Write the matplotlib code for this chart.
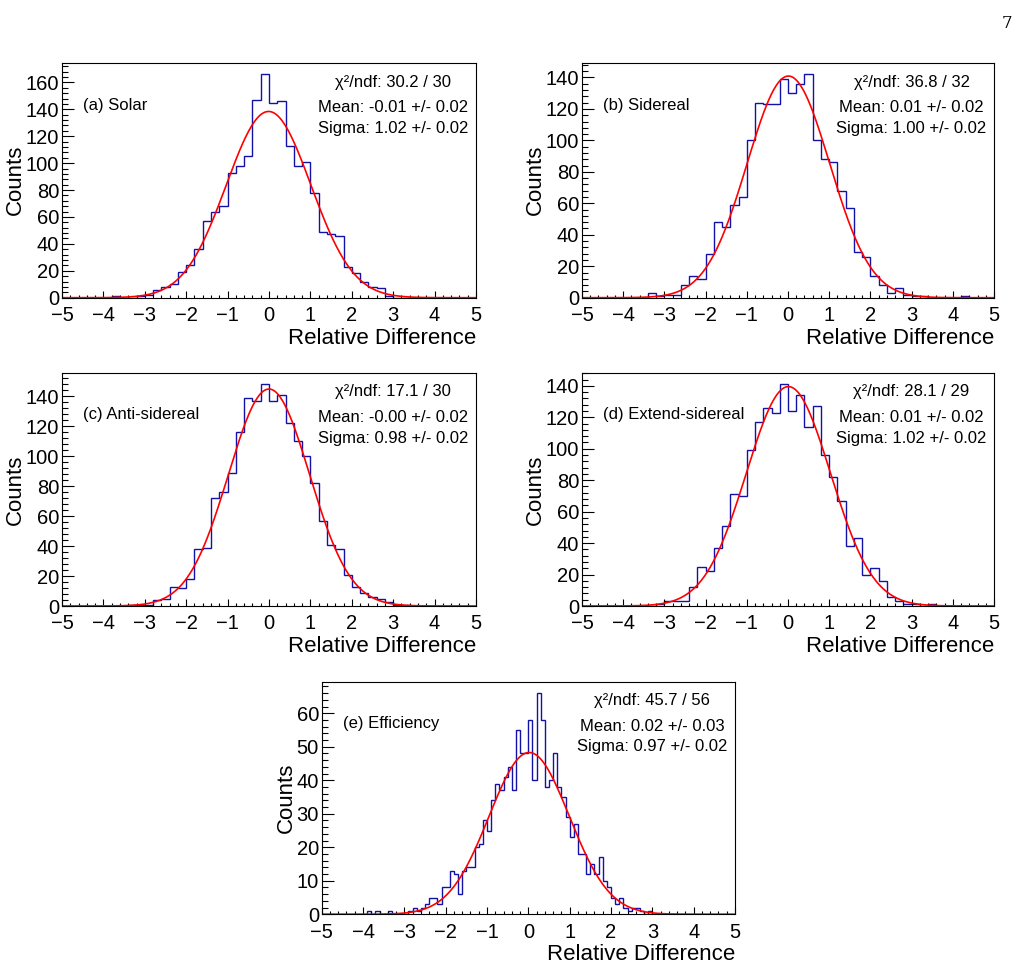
import numpy as np
import matplotlib
matplotlib.use("Agg")
import matplotlib.pyplot as plt
from matplotlib.ticker import MultipleLocator

plt.rcParams['font.family'] = ['Liberation Sans', 'DejaVu Sans']

# bin contents (bins of 0.2 from -5 to 5)
solar_counts = [0, 0, 0, 0, 0, 0, 1, 0, 0, 1,
                2, 6, 8, 10, 19, 24, 36, 57, 64, 68,
                93, 98, 105, 147, 166, 145, 146, 113, 98, 101,
                78, 49, 47, 46, 23, 18, 12, 8, 7, 1,
                0, 0, 0, 0, 0, 0, 0, 0, 0, 0]
sidereal_counts = [0, 0, 0, 0, 0, 0, 0, 0, 3, 1,
                   2, 2, 8, 14, 12, 28, 48, 45, 59, 64,
                   100, 124, 123, 123, 139, 130, 136, 142, 100, 88,
                   86, 68, 57, 29, 26, 14, 8, 3, 6, 2,
                   1, 1, 0, 0, 0, 0, 1, 0, 0, 0]
anti_counts = [0, 0, 0, 0, 0, 0, 0, 0, 1, 1,
               1, 4, 5, 13, 12, 18, 38, 39, 72, 76,
               89, 116, 139, 137, 148, 137, 141, 122, 110, 100,
               82, 57, 41, 38, 21, 13, 9, 6, 5, 3,
               1, 1, 0, 0, 0, 0, 0, 0, 0, 0]
extend_counts = [0, 0, 0, 0, 0, 0, 0, 0, 0, 1,
                 3, 3, 3, 12, 25, 22, 37, 51, 71, 70,
                 99, 117, 126, 123, 141, 124, 134, 114, 127, 96,
                 82, 67, 38, 43, 20, 24, 16, 6, 3, 1,
                 1, 0, 1, 0, 0, 0, 0, 0, 0, 0]
# efficiency uses bins of 0.1
eff_counts = [0, 0, 0, 0, 0, 0, 0, 0, 0, 0,
              0, 1, 0, 1, 0, 0, 1, 0, 0, 0,
              0, 1, 2, 1, 2, 3, 5, 5, 3, 8,
              8, 13, 12, 6, 13, 14, 14, 20, 21, 28,
              25, 34, 39, 37, 41, 44, 37, 55, 48, 48,
              58, 40, 66, 58, 38, 40, 48, 38, 35, 29,
              23, 27, 18, 18, 12, 15, 12, 17, 10, 8,
              5, 3, 5, 2, 1, 2, 2, 1, 0, 1,
              0, 0, 0, 0, 0, 0, 0, 0, 0, 0,
              0, 0, 0, 0, 0, 0, 0, 0, 0, 0]

labels = ['(a) Solar', '(b) Sidereal', '(c) Anti-sidereal',
          '(d) Extend-sidereal', '(e) Efficiency']
chi2 = ['30.2 / 30', '36.8 / 32', '17.1 / 30', '28.1 / 29', '45.7 / 56']
means = ['-0.01', '0.01', '-0.00', '0.01', '0.02']
mean_errs = ['0.02', '0.02', '0.02', '0.02', '0.03']
sigmas = ['1.02', '1.00', '0.98', '1.02', '0.97']
sigma_errs = ['0.02', '0.02', '0.02', '0.02', '0.02']
fit_amp = [138.4, 140.9, 144.8, 139.5, 48.3]

all_counts = [solar_counts, sidereal_counts, anti_counts, extend_counts, eff_counts]

W, H = 1025, 967
# axes boxes in pixels: left, top, right, bottom
boxes = [(62, 62.7, 476, 297.7), (582, 62.7, 994, 297.7),
         (62, 372.7, 476, 606), (582, 372.7, 994, 606),
         (321.7, 681.7, 735, 914.3)]

fig = plt.figure(figsize=(W / 100, H / 100), dpi=100)

xfit = np.linspace(-5, 5, 1000)
for k in range(5):
    l, t, r, b = boxes[k]
    ax = fig.add_axes([l / W, 1 - b / H, (r - l) / W, (b - t) / H])
    counts = np.array(all_counts[k])
    edges = np.linspace(-5, 5, len(counts) + 1)
    ax.stairs(counts, edges, color='#1212a8', lw=1.0)
    mu = float(means[k])
    sg = float(sigmas[k])
    ax.plot(xfit, fit_amp[k] * np.exp(-0.5 * ((xfit - mu) / sg) ** 2),
            color='#ff0000', lw=1.2)
    ax.set_xlim(-5, 5)
    ax.set_ylim(0, counts.max() * 1.052)

    ax.xaxis.set_major_locator(MultipleLocator(1))
    ax.xaxis.set_minor_locator(MultipleLocator(0.2))
    if k < 4:
        ax.yaxis.set_major_locator(MultipleLocator(20))
        ax.yaxis.set_minor_locator(MultipleLocator(4))
    else:
        ax.yaxis.set_major_locator(MultipleLocator(10))
        ax.yaxis.set_minor_locator(MultipleLocator(2))
    ax.tick_params(which='both', direction='in', top=False, right=False,
                   labelsize=14.5, width=0.8)
    ax.tick_params(axis='x', which='major', length=5, pad=6)
    ax.tick_params(axis='x', which='minor', length=2.5)
    ax.tick_params(axis='y', which='major', length=8.6, pad=2)
    ax.tick_params(axis='y', which='minor', length=4.3)
    for s in ax.spines.values():
        s.set_linewidth(0.8)

    ax.set_xlabel('Relative Difference', fontsize=16, loc='right', labelpad=2)
    ax.set_ylabel('Counts', fontsize=16, labelpad=0)

    ax.text(0.051, 0.80, labels[k], transform=ax.transAxes, fontsize=12,
            va='baseline', ha='left')
    ax.text(0.80, 0.898, 'χ²/ndf: ' + chi2[k], transform=ax.transAxes,
            fontsize=12, va='baseline', ha='center')
    ax.text(0.80, 0.79, 'Mean: %s +/- %s' % (means[k], mean_errs[k]),
            transform=ax.transAxes, fontsize=12, va='baseline', ha='center')
    ax.text(0.80, 0.70, 'Sigma: %s +/- %s' % (sigmas[k], sigma_errs[k]),
            transform=ax.transAxes, fontsize=12, va='baseline', ha='center')

fig.text(0.988, 0.985, '7', fontsize=12, family='DejaVu Serif',
         ha='right', va='top')

fig.savefig('out.png', dpi=100)
